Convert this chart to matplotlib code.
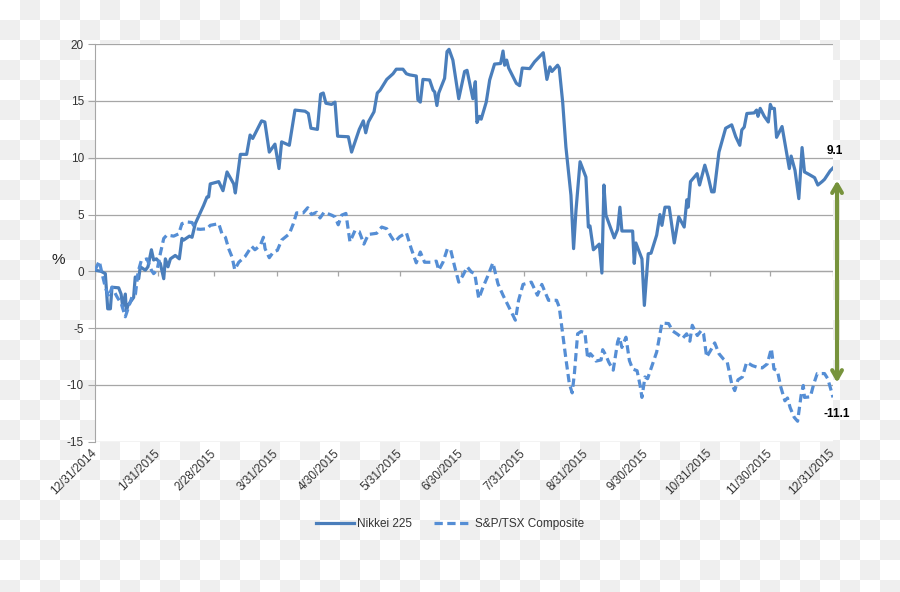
import numpy as np
import pandas as pd
import matplotlib
matplotlib.use("Agg")
import matplotlib.pyplot as plt
from matplotlib.colors import ListedColormap

plt.rcParams['font.family'] = ['Liberation Sans', 'DejaVu Sans']
plt.rcParams['axes.unicode_minus'] = False

# days after 12/31/2014, percent change since start of year
nikkei_days = [0, 3, 5.1, 6.3, 7.6, 8.4, 11.7, 12.9, 13.7, 15.0, 15.5, 16.3, 19.1, 19.9, 21.6, 22.4,
               24.9, 26.2, 27.9, 29, 30.4, 32.3, 34, 34.8, 36.1, 37.3, 39.7, 41.7, 43, 43.8, 46.7, 48,
               49.6, 53.7, 55.4, 56.2, 57, 61.2, 63.3, 65.3, 68.6, 69.4, 71.9, 75, 76.7, 78, 82.4, 84,
               86.2, 89, 91, 92.3, 96.1, 98.9, 103.9, 105.5, 106.8, 110, 111.6, 112.9, 114.2, 117,
               118.7, 120, 125.3, 126.9, 130.7, 132.7, 133.9, 135.2, 138, 139.6, 141, 144.3, 147.4,
               149, 152.3, 154, 155.6, 158.9, 159.7, 160.9, 162.2, 165.5, 167.2, 168, 169.1, 170,
               172.9, 174.1, 175.1, 177, 179.9, 182.8, 184, 186.9, 188.1, 188.9, 190.2, 191, 193.5,
               195.2, 197.6, 200.6, 201.8, 202.6, 203.6, 204.6, 208.4, 210, 211.3, 215, 217.4, 221.7,
               223.5, 225, 226, 228.8, 229.6, 231.3, 232.9, 235.4, 236.7, 237.9, 239.9, 242.8, 244,
               244.8, 246.5, 249.4, 250.7, 251.7, 252.7, 256.8, 258.5, 259.6, 260.6, 265.9, 266.7,
               267.5, 270.5, 271.7, 273.6, 275, 277.8, 279.4, 280.4, 281.9, 284, 286.5, 288.7, 291.4,
               292.7, 293.4, 294.5, 297.8, 299, 301.6, 303.3, 305, 306.2, 308.6, 311.9, 314.9, 316.9,
               318.9, 319.9, 321.1, 322.4, 326, 327.2, 327.9, 329, 331, 333, 334, 334.8, 336, 337.1,
               339.8, 343.4, 344.3, 346.2, 348.1, 349.7, 350.9, 353, 355.9, 357.5, 359.6, 360.8,
               363.6, 365]
nikkei_vals = [0.1, 0, -0.2, -3.3, -3.3, -1.4, -1.45, -2.0, -3.1, -2.0, -3.5, -3.0, -2.3, -0.5, -0.65, 0.4,
               0.1, 0.4, 1.9, 1.0, 1.1, 0.7, -0.65, 1.1, 0.4, 1.1, 1.4, 1.1, 2.9, 2.75, 3.1, 3.0,
               4.2, 5.8, 6.55, 6.55, 7.7, 7.9, 7.1, 8.75, 7.7, 6.9, 10.3, 10.3, 12.0, 11.7, 13.25, 13.15,
               10.5, 11.2, 9.05, 11.4, 11.1, 14.2, 14.1, 13.9, 12.6, 12.5, 15.6, 15.7, 14.8, 14.7,
               14.9, 11.9, 11.85, 10.5, 12.5, 13.25, 12.2, 13.15, 14.05, 15.7, 15.95, 16.9, 17.4,
               17.8, 17.8, 17.4, 17.3, 17.2, 15.1, 14.9, 16.9, 16.85, 15.95, 15.8, 14.6, 15.7,
               17.0, 19.35, 19.55, 18.6, 15.2, 17.6, 17.7, 15.2, 16.7, 13.1, 13.65, 13.4, 14.9,
               16.85, 18.25, 18.3, 19.4, 18.15, 18.6, 17.9, 16.55, 16.35, 17.9, 17.85, 18.45, 19.25,
               16.9, 18.0, 17.6, 18.15, 17.9, 14.9, 10.95, 6.7, 2.0, 5.4, 9.65, 8.3, 3.9,
               4.0, 1.9, 2.4, -0.15, 7.6, 4.95, 2.95, 3.7, 5.65, 3.55, 3.55, 0.7,
               2.5, 1.1, -3.0, 1.55, 1.6, 3.2, 5.0, 4.05, 5.65, 5.65, 2.5, 4.8, 3.9,
               6.3, 5.65, 7.9, 8.6, 7.6, 9.35, 8.3, 7.0, 7.0, 10.5, 12.6, 12.9, 11.85,
               11.1, 12.45, 12.7, 13.9, 13.95, 14.2, 13.65, 14.35, 13.65, 13.15, 14.7, 14.35, 14.35, 11.8,
               12.75, 9.05, 10.15, 8.9, 6.4, 10.9, 8.75, 8.55, 8.25, 7.6, 7.9, 8.1,
               8.85, 9.1]

tsx_days = [0, 2.1, 3.5, 5.1, 6.8, 8.4, 10.9, 13, 15, 16.6, 18.3, 20, 21.3, 22.9, 25.7, 27.9, 29, 30.7,
            32.3, 34, 35.6, 38.9, 41.4, 43, 45.5, 48, 49.6, 52.1, 55.4, 57, 61.2, 62.8, 64.5, 66.1,
            67.8, 69.1, 71.1, 74.2, 77.5, 79.1, 80.8, 82, 83.3, 84.1, 86.2, 88.2, 90.2, 92.3, 94,
            96.1, 98.1, 99.7, 103, 105.2, 107.1, 109.6, 111.3, 113.3, 117, 118.7, 120.3, 122, 124.1,
            126.1, 128.6, 130.7, 133, 135.2, 139.3, 141.8, 144.3, 146.3, 148.2, 150.7, 154, 156.4,
            158.9, 160.9, 163, 166.3, 168.8, 170, 172.1, 174.3, 175.9, 177.9, 179.9, 182, 184.1,
            186.1, 187.8, 189.8, 191.9, 194.4, 196.8, 199.3, 201.8, 205.1, 207.9, 209.5, 211.7,
            215.8, 218.8, 221, 224.3, 228.3, 229.6, 231.3, 232.9, 234.6, 236, 237.1, 238.7, 240.4,
            242.3, 243.7, 245, 246.5, 247.8, 250.3, 251.1, 252.7, 254.1, 256.3, 258.5, 259.3, 260.6,
            262.6, 264.3, 265.9, 268.1, 269.6, 270.5, 272, 273.3, 275.8, 277.8, 280.4, 283.7, 285.7,
            288.2, 290.6, 292.6, 294.2, 295.4, 297.9, 299.9, 301, 302.5, 304.5, 306.5, 308.6, 310.7,
            312.7, 314.9, 316.4, 318, 320.2, 322.3, 325.1, 327.6, 330, 332.5, 334.5, 335.8, 337.5,
            339.2, 341.2, 342.5, 343.8, 345.8, 347.5, 349.2, 350.3, 350.9, 353.8, 355.5, 357.2,
            360.8, 362.4, 364.1, 365]
tsx_vals = [0.1, 0.9, -0.2, -1.4, -2.25, -1.4, -2.25, -2.85, -4.0, -3.15, -2.25, -2.0, -0.05, 0.95, 1.1, 0.1, -0.2, 0.1,
            1.55, 2.9, 3.2, 3.1, 3.3, 4.2, 4.35, 4.3, 3.75, 3.7, 3.75, 4.05, 4.2, 3.3, 3.0, 2.0,
            1.25, 0.15, 0.8, 1.3, 2.2, 1.9, 2.15, 2.4, 3.0, 2.0, 1.2, 1.7, 1.85, 2.75, 3.0,
            3.3, 4.2, 5.15, 5.15, 5.6, 5.0, 5.2, 4.7, 5.2, 4.95, 4.8, 4.1, 4.95, 5.1,
            2.6, 3.6, 3.5, 2.4, 3.25, 3.35, 3.9, 3.75, 3.1, 2.6, 3.05, 3.4, 2.0,
            0.75, 1.7, 0.8, 0.8, 0.9, 0.1, 0.8, 2.0, 1.9, 0.4, -0.95, -0.35, 0.4,
            -0.05, -0.2, -2.4, -1.4, -0.35, 0.75, -1.1, -2.1, -3.3, -4.3, -2.55, -1.15,
            -0.95, -2.1, -1.15, -2.55, -2.55, -3.15, -5.5, -7.7, -9.9, -10.7, -9.0, -5.5, -5.3,
            -5.4, -7.7, -7.25, -7.55, -7.9, -7.8, -6.9, -7.4, -8.0, -8.7, -6.2, -5.8, -6.7,
            -5.8, -7.85, -8.6, -8.75, -10.05, -11.1, -9.3, -9.45, -8.15, -7.1, -4.55, -4.6, -5.25,
            -5.55, -5.9, -5.5, -6.15, -4.75, -5.65, -5.2, -5.5, -7.55, -6.95, -6.3, -7.25, -7.7,
            -8.0, -9.9, -10.5, -9.55, -9.3, -8.0, -8.3, -8.45, -8.5, -8.15, -6.8, -8.6, -8.75,
            -10.2, -11.4, -11.15, -12.0, -12.85, -13.2, -10.95, -10.05, -11.1, -11.05, -9.9, -9.0,
            -9.0, -9.45, -10.5, -11.1]

start = pd.Timestamp('2014-12-31')
end = pd.Timestamp('2015-12-31')
nikkei_dates = start + pd.to_timedelta(nikkei_days, unit='D')
tsx_dates = start + pd.to_timedelta(tsx_days, unit='D')

tick_dates = pd.date_range(start, end, freq='ME')
tick_labels = [f"{d.month}/{d.day}/{d.year}" for d in tick_dates]

fig = plt.figure(figsize=(9, 5.92), dpi=100)

# transparent-png checkerboard behind the chart
bg = fig.add_axes([0, 0, 1, 1])
bg.set_zorder(-1)
checker = np.indices((30, 45)).sum(0) % 2
bg.imshow(checker, cmap=ListedColormap(['white', '#EFEFEF']), extent=(0, 900, 600, 0),
          interpolation='nearest', aspect='auto')
bg.set_xlim(0, 900)
bg.set_ylim(592, 0)
bg.axis('off')

ax = fig.add_axes([95 / 900, 150.3 / 592, 738 / 900, 397.5 / 592])
ax.set_facecolor('white')

grid_c = '#A6A6A6'
ax.plot(nikkei_dates, nikkei_vals, color='#4A7EBB', lw=2.3, label='Nikkei 225', zorder=3)
ax.plot(tsx_dates, tsx_vals, color='#558ED5', lw=2.3, dashes=(2.6, 1.4), label='S&P/TSX Composite', zorder=3)

ax.set_xlim(start, end)
ax.set_ylim(-15, 20)
ax.set_yticks(range(-15, 21, 5))
ax.yaxis.grid(True, color=grid_c, lw=0.9)
ax.set_axisbelow(True)
for s in ['top', 'right', 'bottom']:
    ax.spines[s].set_visible(False)
ax.spines['left'].set_color(grid_c)
ax.tick_params(axis='y', length=5, color=grid_c, labelsize=8.5, labelcolor='#333333', pad=3)

# horizontal axis crosses at 0, labels stay at the bottom
ax.axhline(0, color=grid_c, lw=0.9, zorder=2)
ax.vlines(tick_dates, -0.45, 0, color=grid_c, lw=0.9, zorder=2)
ax.set_xticks(tick_dates)
ax.set_xticklabels(tick_labels, rotation=45, ha='right', va='center', rotation_mode='anchor')
ax.tick_params(axis='x', length=0, labelsize=8.5, labelcolor='#333333', pad=7)

fig.text(58 / 900, 1 - 260 / 592, '%', fontsize=11, ha='center', va='center', color='#222222')

# end values
ax.annotate(f"{nikkei_vals[-1]:.1f}", (nikkei_dates[-1], nikkei_vals[-1]), xytext=(1, 12),
            textcoords='offset points', ha='center', va='center', fontsize=8.5,
            fontweight='bold', annotation_clip=False)
ax.annotate(f"{tsx_vals[-1]:.1f}", (tsx_dates[-1], tsx_vals[-1]), xytext=(3, -12),
            textcoords='offset points', ha='center', va='center', fontsize=8.5,
            fontweight='bold', annotation_clip=False)

# gap arrow
arrow_x = end + pd.Timedelta(days=2)
ax.annotate('', xy=(arrow_x, 8.0), xytext=(arrow_x, -9.8),
            arrowprops=dict(arrowstyle='<->,head_length=0.6,head_width=0.35',
                            color='#77933C', lw=3, shrinkA=0, shrinkB=0),
            annotation_clip=False)

fig.legend(loc='center', bbox_to_anchor=(0.5, 1 - 524 / 592), ncol=2, frameon=False,
           fontsize=8.5, handlelength=3.2, columnspacing=1.8, handletextpad=0.3,
           labelcolor='#333333')

fig.savefig('out.png', dpi=100)
